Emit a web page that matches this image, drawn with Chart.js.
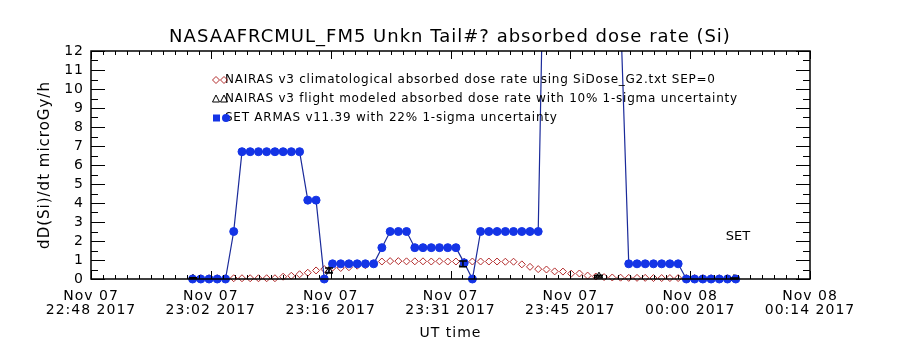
<!DOCTYPE html>
<html>
<head>
<meta charset="utf-8">
<script src="https://cdn.jsdelivr.net/npm/chart.js@4.4.1/dist/chart.umd.min.js"></script>
<style>
  html, body { margin: 0; padding: 0; background: #fff; }
</style>
</head>
<body>
<canvas id="doseChart" width="900" height="350"></canvas>
<script>
// x axis: minutes after Nov 07 22:48 UT
const tickMinutes = [0, 14.33, 28.67, 43, 57.33, 71.67, 86];
const tickDays = ['Nov 07', 'Nov 07', 'Nov 07', 'Nov 07', 'Nov 07', 'Nov 08', 'Nov 08'];
const tickTimes = ['22:48 2017', '23:02 2017', '23:16 2017', '23:31 2017', '23:45 2017', '00:00 2017', '00:14 2017'];
const yTicks = [0, 1, 2, 3, 4, 5, 6, 7, 8, 9, 10, 11, 12];

// sample times (minutes after 22:48), shared by ARMAS and NAIRAS climatology
const sampleTimes = [
  12.15, 13.13, 14.12, 15.10, 16.09, 17.07, 18.06, 19.04, 20.03, 21.01,
  22.00, 22.98, 23.96, 24.95, 25.93, 26.92, 27.90, 28.89, 29.87, 30.85,
  31.84, 32.82, 33.81, 34.79, 35.78, 36.76, 37.74, 38.73, 39.71, 40.70,
  41.68, 42.67, 43.65, 44.64, 45.62, 46.60, 47.59, 48.57, 49.56, 50.54,
  51.53, 52.51, 53.49, 54.48, 55.46, 56.45, 57.43, 58.42, 59.40, 60.38,
  61.37, 62.35, 63.34, 64.32, 65.31, 66.29, 67.28, 68.26, 69.24, 70.23,
  71.21, 72.20, 73.18, 74.17, 75.15, 76.13, 77.12
];

// SET ARMAS v11.39 (values above 12 are off the plot)
const armasDose = [
  0, 0, 0, 0, 0, 2.5, 6.7, 6.7, 6.7, 6.7,
  6.7, 6.7, 6.7, 6.7, 4.15, 4.15, 0, 0.8, 0.8, 0.8,
  0.8, 0.8, 0.8, 1.65, 2.5, 2.5, 2.5, 1.65, 1.65, 1.65,
  1.65, 1.65, 1.65, 0.85, 0, 2.5, 2.5, 2.5, 2.5, 2.5,
  2.5, 2.5, 2.5, 25.5, 30, 33, 34, 32, 29, 26,
  22, 18, 14, 0.8, 0.8, 0.8, 0.8, 0.8, 0.8, 0.8,
  0, 0, 0, 0, 0, 0, 0
];

// NAIRAS v3 climatological
const climDose = [
  0.04, 0.04, 0.04, 0.04, 0.04, 0.04, 0.04, 0.04, 0.04, 0.04,
  0.04, 0.12, 0.17, 0.25, 0.33, 0.45, 0.52, 0.6, 0.58, 0.62,
  0.7, 0.72, 0.82, 0.92, 0.94, 0.94, 0.93, 0.93, 0.93, 0.92,
  0.93, 0.92, 0.92, 0.91, 0.92, 0.92, 0.92, 0.92, 0.91, 0.91,
  0.77, 0.64, 0.52, 0.5, 0.4, 0.39, 0.28, 0.29, 0.18, 0.13,
  0.1, 0.08, 0.07, 0.06, 0.06, 0.06, 0.05, 0.05, 0.05, 0.05,
  0.05, 0.05, 0.04, 0.04, 0.04, 0.04, 0.04
];

// NAIRAS v3 flight modeled, with uncertainty
const flightTimes = [12.2, 28.47, 44.49, 60.76, 76.91];
const flightDose = [0.04, 0.45, 0.8, 0.15, 0.03];
const flightErr = [0.02, 0.13, 0.15, 0.05, 0.02];

const legendLabels = [
  'NAIRAS v3 climatological absorbed dose rate using SiDose_G2.txt SEP=0',
  'NAIRAS v3 flight modeled absorbed dose rate with 10% 1-sigma uncertainty',
  'SET ARMAS v11.39 with 22% 1-sigma uncertainty'
];

const FONT = '"DejaVu Sans", sans-serif';
const BLUE = '#1434e6';
const NAVY = '#1a2a9a';
const RED = '#b22a2a';

const toPoints = (xs, ys) => xs.map((t, i) => ({x: t, y: ys[i]}));

function safe(fn) {
  try { fn(); } catch (e) { console.error(e); }
}

// IDL-like frame: box and inward ticks on all four sides, error bars, legend.
// Frame edges come from the scales themselves (first/last x tick, y 0 and 12).
const framePlugin = {
  id: 'idlFrame',
  beforeDraw(chart) {
    chart.ctx.letterSpacing = '1px';
  },
  afterDatasetsDraw(chart) {
    const ctx = chart.ctx;
    const xs = chart.scales.x;
    const ys = chart.scales.y;
    const L = xs.getPixelForValue(tickMinutes[0]);
    const R = xs.getPixelForValue(tickMinutes[tickMinutes.length - 1]);
    const B = ys.getPixelForValue(yTicks[0]);
    const T = ys.getPixelForValue(yTicks[yTicks.length - 1]);
    ctx.save();
    ctx.strokeStyle = '#000000';

    // error bars on the flight-modeled points
    safe(() => {
      ctx.lineWidth = 1.5;
      ctx.beginPath();
      for (let i = 0; i < flightTimes.length; i++) {
        const px = xs.getPixelForValue(flightTimes[i]);
        const y1 = ys.getPixelForValue(flightDose[i] - flightErr[i]);
        const y2 = ys.getPixelForValue(flightDose[i] + flightErr[i]);
        ctx.moveTo(px, y1); ctx.lineTo(px, y2);
        ctx.moveTo(px - 4, y1); ctx.lineTo(px + 4, y1);
        ctx.moveTo(px - 4, y2); ctx.lineTo(px + 4, y2);
      }
      ctx.stroke();
    });

    // box
    safe(() => {
      ctx.lineWidth = 1.5;
      ctx.beginPath();
      ctx.moveTo(L, T); ctx.lineTo(R, T);
      ctx.lineTo(R, B); ctx.lineTo(L, B);
      ctx.closePath();
      ctx.stroke();
    });

    // y ticks, left and right (major 1, minor 0.5)
    safe(() => {
      ctx.lineWidth = 1;
      ctx.beginPath();
      for (let v = 0; v <= 24; v++) {
        const py = Math.round(ys.getPixelForValue(v / 2)) + 0.5;
        const len = v % 2 === 0 ? 14 : 7;
        ctx.moveTo(L, py); ctx.lineTo(L + len, py);
        ctx.moveTo(R, py); ctx.lineTo(R - len, py);
      }
      ctx.stroke();
    });

    // x ticks, bottom and top (10 minor steps per major)
    safe(() => {
      ctx.lineWidth = 1;
      ctx.beginPath();
      for (let k = 0; k < tickMinutes.length; k++) {
        const px = Math.round(xs.getPixelForValue(tickMinutes[k])) + 0.5;
        ctx.moveTo(px, B); ctx.lineTo(px, B - 8);
        ctx.moveTo(px, T); ctx.lineTo(px, T + 8);
        if (k < tickMinutes.length - 1) {
          const dt = (tickMinutes[k + 1] - tickMinutes[k]) / 10;
          for (let m = 1; m < 10; m++) {
            const mx = Math.round(xs.getPixelForValue(tickMinutes[k] + m * dt)) + 0.5;
            ctx.moveTo(mx, B); ctx.lineTo(mx, B - 4);
            ctx.moveTo(mx, T); ctx.lineTo(mx, T + 4);
          }
        }
      }
      ctx.stroke();
    });
    ctx.restore();
  },
  afterDraw(chart) {
    const ctx = chart.ctx;
    ctx.save();
    safe(() => {
      // legend text
      ctx.letterSpacing = '0.75px';
      ctx.font = '12px ' + FONT;
      ctx.fillStyle = '#000';
      ctx.textBaseline = 'middle';
      ctx.textAlign = 'left';
      const rows = [80, 99, 118];
      legendLabels.forEach((t, i) => ctx.fillText(t, 225, rows[i]));

      // legend symbols
      ctx.lineWidth = 1;
      ctx.strokeStyle = RED;
      [216, 224].forEach(cx => {
        ctx.beginPath();
        ctx.moveTo(cx, rows[0] - 3.5); ctx.lineTo(cx + 3.5, rows[0]);
        ctx.lineTo(cx, rows[0] + 3.5); ctx.lineTo(cx - 3.5, rows[0]);
        ctx.closePath(); ctx.stroke();
      });
      ctx.strokeStyle = '#000';
      [216, 224].forEach(cx => {
        ctx.beginPath();
        ctx.moveTo(cx, rows[1] - 4); ctx.lineTo(cx + 3.5, rows[1] + 3);
        ctx.lineTo(cx - 3.5, rows[1] + 3); ctx.closePath(); ctx.stroke();
      });
      ctx.fillStyle = BLUE;
      ctx.fillRect(213, rows[2] - 3.5, 7, 7);
      ctx.beginPath();
      ctx.arc(226, rows[2], 4, 0, Math.PI * 2);
      ctx.fill();

      // SET label
      ctx.letterSpacing = '0px';
      ctx.fillStyle = '#000';
      ctx.font = '13px ' + FONT;
      ctx.textAlign = 'center';
      ctx.fillText('SET', 738, 237);
    });
    ctx.restore();
  }
};

Chart.defaults.color = '#000';
Chart.defaults.font.family = FONT;

new Chart(document.getElementById('doseChart'), {
  type: 'line',
  data: {
    datasets: [{
      label: 'SET ARMAS v11.39',
      data: toPoints(sampleTimes, armasDose),
      borderColor: NAVY,
      borderWidth: 1.2,
      pointStyle: 'circle',
      pointRadius: 4,
      pointBackgroundColor: BLUE,
      pointBorderColor: BLUE,
      pointBorderWidth: 1,
      tension: 0,
      clip: {left: 6, right: 6, top: 0, bottom: 6},
      order: 0
    }, {
      label: 'NAIRAS v3 flight modeled',
      data: toPoints(flightTimes, flightDose),
      showLine: false,
      pointStyle: 'triangle',
      pointRadius: 4,
      pointBackgroundColor: 'rgba(0,0,0,0)',
      pointBorderColor: '#000',
      pointBorderWidth: 1,
      clip: 6,
      order: 1
    }, {
      label: 'NAIRAS v3 climatological',
      data: toPoints(sampleTimes, climDose),
      showLine: false,
      pointStyle: 'rectRot',
      pointRadius: 3.5,
      pointBackgroundColor: 'rgba(0,0,0,0)',
      pointBorderColor: RED,
      pointBorderWidth: 1,
      clip: 6,
      order: 2
    }]
  },
  options: {
    responsive: false,
    animation: false,
    devicePixelRatio: 1,
    layout: {padding: 0},
    plugins: {
      legend: {display: false},
      tooltip: {enabled: false},
      title: {
        display: true,
        text: 'NASAAFRCMUL_FM5 Unkn Tail#? absorbed dose rate (Si)',
        color: '#000',
        font: {size: 18, weight: 'normal', lineHeight: 1.2},
        padding: {top: 27, bottom: 2.4}
      }
    },
    scales: {
      x: {
        type: 'linear',
        min: 0,
        max: 86,
        afterBuildTicks: s => { s.ticks = tickMinutes.map(v => ({value: v})); },
        afterFit: s => { s.height = 71; },
        grid: {display: false, drawTicks: false},
        border: {display: false},
        ticks: {
          autoSkip: false,
          maxRotation: 0,
          padding: 10,
          font: {size: 14, lineHeight: 1},
          callback: (v, i) => [tickDays[i], tickTimes[i]]
        },
        title: {
          display: true,
          text: 'UT time',
          font: {size: 14, lineHeight: 1.2},
          padding: {top: 0, bottom: 8}
        }
      },
      y: {
        min: 0,
        max: 12,
        afterBuildTicks: s => { s.ticks = yTicks.map(v => ({value: v})); },
        afterFit: s => { s.width = 91; },
        grid: {display: false, drawTicks: false},
        border: {display: false},
        ticks: {autoSkip: false, padding: 7, font: {size: 14}},
        title: {
          display: true,
          text: 'dD(Si)/dt microGy/h',
          font: {size: 15, lineHeight: 1.2},
          padding: {top: 36, bottom: 0}
        }
      },
      // empty right-hand axis keeps the plot box narrower than the title row
      yRight: {
        position: 'right',
        min: 0,
        max: 12,
        afterFit: s => { s.width = 90; },
        grid: {display: false, drawTicks: false},
        border: {display: false},
        ticks: {display: false}
      }
    }
  },
  plugins: [framePlugin]
});
</script>
</body>
</html>
